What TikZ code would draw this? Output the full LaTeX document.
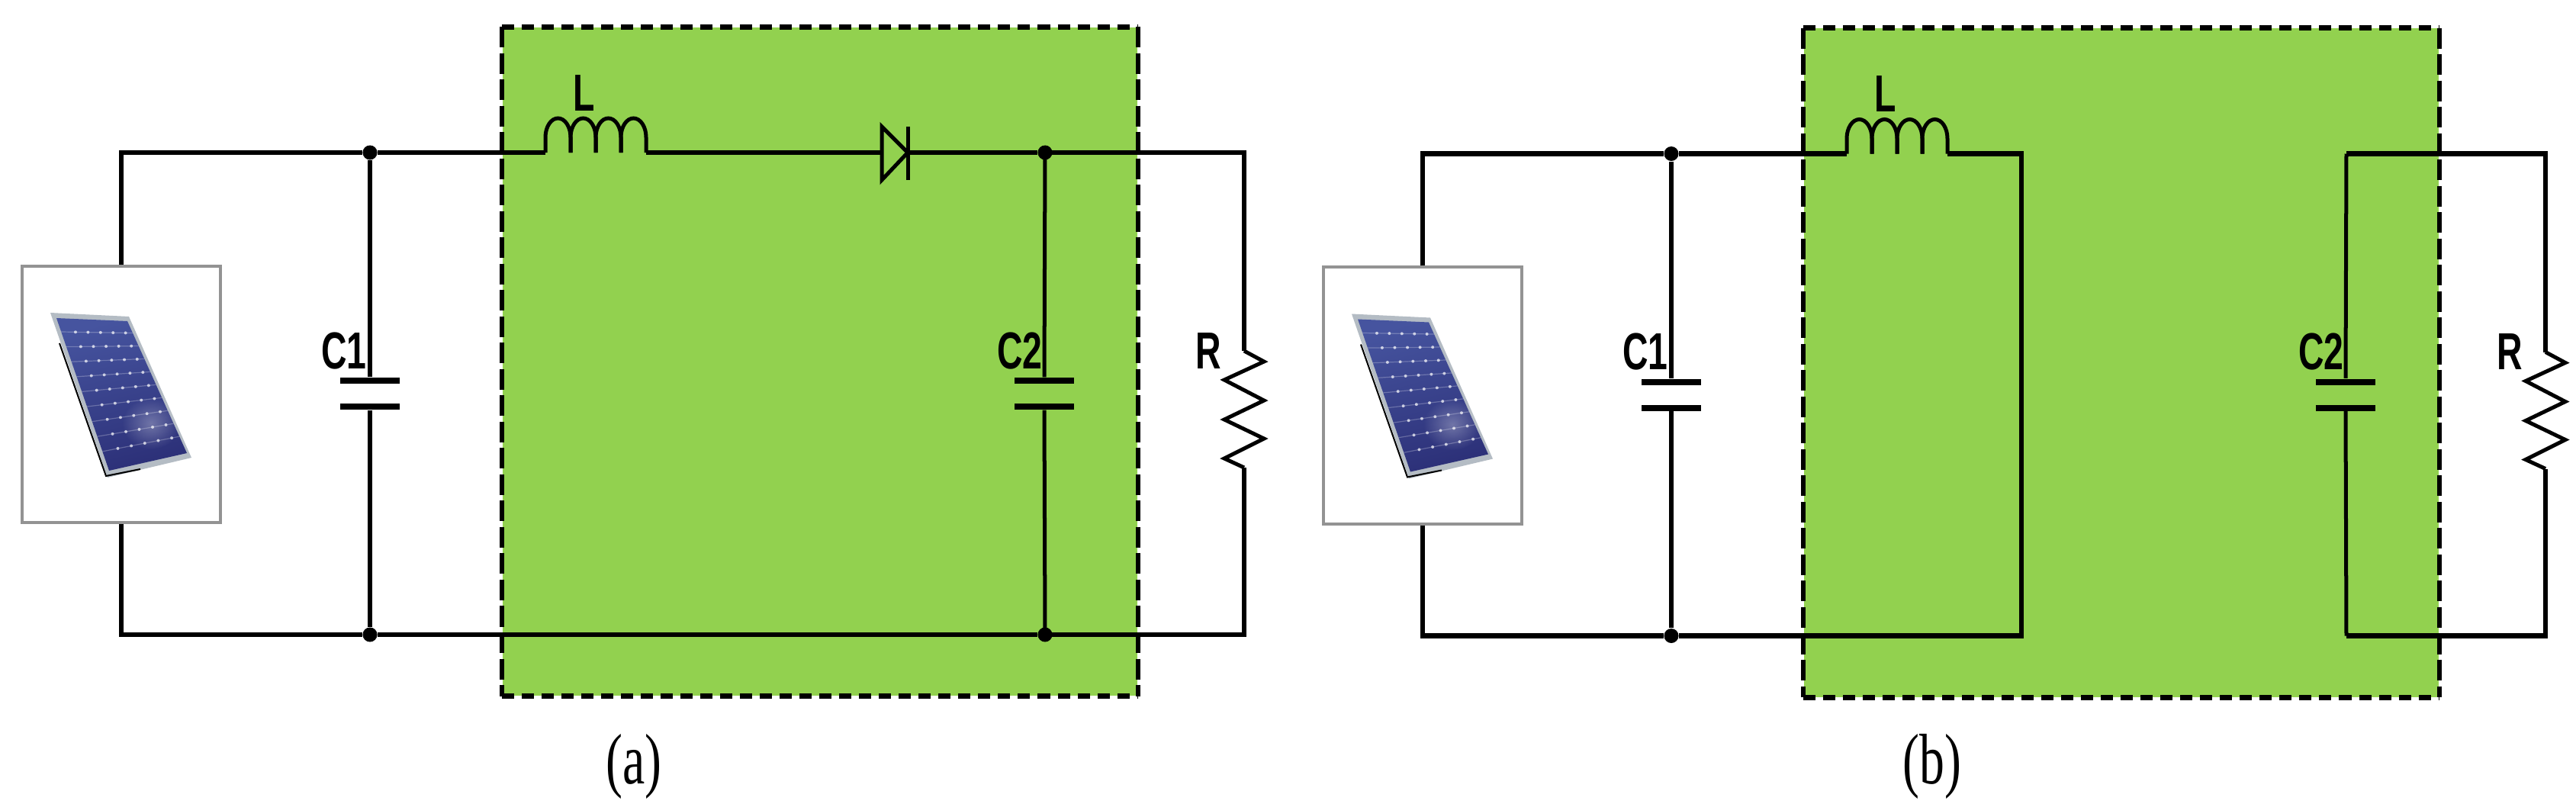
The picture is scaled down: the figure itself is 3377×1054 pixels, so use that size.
\documentclass[tikz,border=0pt]{standalone}
\usepackage{fontspec}
\setmainfont{Liberation Serif}
\newfontfamily\partfont{Liberation Sans}
\usetikzlibrary{calc, positioning, fadings}
\definecolor{zonegreen}{HTML}{92D14F}
\definecolor{cellblue}{HTML}{46549F}
\definecolor{celldark}{HTML}{2C3078}
\definecolor{framegray}{HTML}{B4BCC4}
\tikzfading[name=glow, inner color=transparent!0, outer color=transparent!100]

\begin{document}
\begin{tikzpicture}[
  x=0.01cm, y=-0.01cm,
  zone/.style={rectangle, fill=zonegreen, inner sep=0, minimum width=8.32cm, minimum height=8.76cm},
  hdash/.style={line width=0.07cm, dash pattern=on 0.16cm off 0.10cm},
  vdash/.style={line width=0.06cm, dash pattern=on 0.27cm off 0.075cm},
  wire/.style={line width=0.065cm},
  thinwire/.style={line width=0.05cm},
  dot/.style={circle, fill=black, inner sep=0, minimum size=0.19cm},
  plate/.style={rectangle, fill=black, inner sep=0, minimum width=0.77cm, minimum height=0.08cm},
  pvbox/.style={rectangle, draw=gray!85, fill=white, line width=0.04cm, minimum width=2.6cm, minimum height=3.36cm},
  part/.style={font=\partfont\fontsize{19.4pt}{20pt}\selectfont\bfseries, inner sep=0, xscale=.68, transform shape},
  tag/.style={font=\fontsize{26.7pt}{28pt}\selectfont, inner sep=0, xscale=.70, transform shape}
  ]

\useasboundingbox (0,0) rectangle (3377,1054);

% Both circuits
\foreach \dx/\dy/\n in {0/0/a, 17.05/-0.015/b} {
\begin{scope}[xshift=\dx cm, yshift=\dy cm]
  \node[zone] (zone\n) at (1075,474) {};
  \draw[hdash] (zone\n.north west) -- (zone\n.north east);
  \draw[hdash] (zone\n.south west) -- (zone\n.south east);
  \draw[vdash] (zone\n.north west) -- (zone\n.south west);
  \draw[vdash] (zone\n.north east) -- (zone\n.south east);

  % Solar module
  \node[pvbox] (pv\n) at (159,517) {};
  \fill[framegray] (66,410) -- (169,415) -- (251,600) -- (141,626) -- cycle;
  \coordinate (s1) at (74,417);
  \coordinate (s2) at (167,421);
  \coordinate (s3) at (245,594);
  \coordinate (s4) at (143,617);
  \shade[left color=cellblue, right color=celldark, shading angle=15] (s1) -- (s2) -- (s3) -- (s4) -- cycle;
  \fill[white, opacity=.3, path fading=glow] (198,555) ellipse (38 and 34);
  \draw[black, line width=0.02cm] (78,450) -- (139,624) -- (184,615);
  \foreach \r in {0,...,8} {
    \pgfmathsetmacro\v{0.09+\r*0.098}
    \draw[white, opacity=.25, line width=0.012cm] ($(s1)!\v!(s4)$) -- ($(s2)!\v!(s3)$);
    \foreach \c in {0,...,4} {
      \pgfmathsetmacro\u{0.2+\c*0.175}
      \fill[white, opacity=.7] ($($(s1)!\v!(s4)$)!\u!($(s2)!\v!(s3)$)$) circle (2);
    }
  }

  % Named points
  \coordinate (Lin\n) at (715,200);
  \coordinate (Lout\n) at (847,200);
  \coordinate (top\n) at (1370,200);
  \coordinate (bot\n) at (1370,832);
  \coordinate (Rt\n) at (1631,460);
  \coordinate (Rb\n) at (1631,613);
  \coordinate (tr\n) at (1631,200);
  \coordinate (br\n) at (1631,832);
  \node[dot] (j1\n) at (485,200) {};
  \node[dot] (j2\n) at (485,832) {};
  \node[plate] (C1t\n) at (485,499) {};
  \node[plate] (C1b\n) at (485,533) {};
  \node[plate] (C2t\n) at (1369,499) {};
  \node[plate] (C2b\n) at (1369,533) {};

  % Wires
  \draw[wire] (pv\n.north) |- (j1\n) -- (Lin\n);
  \draw[wire] (pv\n.south) |- (j2\n);
  \draw[wire] (j1\n) -- (C1t\n);
  \draw[wire] (C1b\n) -- (j2\n);
  \draw[thinwire] (top\n) -- (C2t\n);
  \draw[thinwire] (C2b\n) -- (bot\n);
  \draw[wire] (top\n) -- (tr\n) -- (Rt\n);
  \draw[wire] (Rb\n) -- (br\n) -- (bot\n);

  % Coil and resistor
  \foreach \k in {0,...,3}
    \draw[thinwire] ($(Lin\n)+(\k*33,0)$) -- ++(0,-20) arc[start angle=180, end angle=360, x radius=16.5, y radius=25] -- ++(0,20);
  \draw[thinwire] (Rt\n) -- ++(26,14) -- ++(-52,24) -- ++(52,27) -- ++(-52,25) -- ++(52,25) -- ++(-52,26) -- (Rb\n);

  % Labels
  \node[part] (labC1\n) at (451,460) {C1};
  \node[part] (labL\n) at (766,122) {L};
  \node[part] (labC2\n) at (1337,460) {C2};
  \node[part] (labR\n) at (1584,460) {R};
\end{scope}
}

% Circuit (a)
\coordinate (Da) at (1156,200);
\coordinate (Dk) at (1190,200);
\node[dot] (j3) at (topa) {};
\node[dot] (j4) at (bota) {};
\draw[wire] (Louta) -- (Da);
\draw[wire] (Dk) -- (j3);
\draw[wire] (j2a) -- (j4);
\draw[thinwire] (1156,166) -- (1156,236) -- (Dk) -- cycle;
\draw[thinwire] (1190,166) -- (1190,236);

% Circuit (b)
\draw[wire] (Loutb) -- ++(97,0) |- (j2b);

\node[tag] (taga) at (831,1005) {(a)};
\node[tag] (tagb) at (2533,1005) {(b)};

\end{tikzpicture}
\end{document}
